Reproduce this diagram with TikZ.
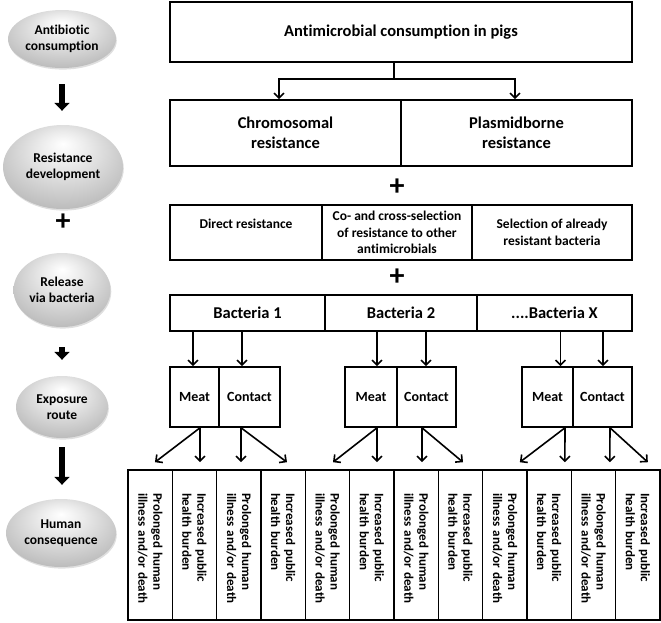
\documentclass[tikz,border=0pt]{standalone}
\usepackage{fontspec}
\setmainfont[Ligatures={NoCommon}]{Carlito}
\usetikzlibrary{arrows.meta,calc,shapes.geometric,shadows}
\pgfdeclareradialshading{eggshade}{\pgfpoint{0bp}{14bp}}{color(0bp)=(white); color(10bp)=(black!8); color(28bp)=(black!24); color(44bp)=(black!40); color(50bp)=(black!48)}
\begin{document}
\begin{tikzpicture}[x=1pt,y=-1pt,
  box/.style={draw, line width=1.6pt, inner sep=2pt, align=center,
    font=\bfseries\fontsize{13.5}{16.5}\selectfont},
  bigbox/.style={box, font=\bfseries\fontsize{16.5}{20}\selectfont},
  col/.style={draw, line width=1.6pt, inner sep=0pt, rotate=-90,
    minimum width=150pt, minimum height=44.33pt},
  coltext/.style={rotate=-90, inner sep=0pt, text width=124pt, align=left,
    font=\bfseries\fontsize{13}{15}\selectfont},
  egg/.style={ellipse, shading=eggshade, inner sep=0pt, align=center,
    font=\bfseries\fontsize{13.5}{16.5}\selectfont,
    drop shadow={opacity=0.25, shadow xshift=0.8pt, shadow yshift=-1.6pt}},
  plus/.style={font=\bfseries\fontsize{30}{30}\selectfont, inner sep=0pt},
  arr/.style={line width=1.6pt, -{Straight Barb[length=5pt,width=10pt]}},
  blk/.style={line width=5.5pt, -{Triangle[length=8pt,width=15pt]}},
]
\useasboundingbox (0,0) rectangle (661,622);

% ---------- left column ----------
\node[egg, minimum width=108pt, minimum height=58pt] (e1) at (62,39) {Antibiotic\\consumption};
\node[egg, minimum width=120pt, minimum height=84pt] (e2) at (63,167) {Resistance\\development};
\node[egg, minimum width=97pt, minimum height=74pt] (e3) at (62,290) {Release\\via bacteria};
\node[egg, minimum width=92pt, minimum height=62pt] (e4) at (62,407) {Exposure\\route};
\node[egg, minimum width=110pt, minimum height=68pt] (e5) at (61,533) {Human\\consequence};
\node[plus] (pl0) at (63,222) {+};
\draw[blk, shorten <=16pt, shorten >=14pt] (e1.south) -- (e2.north -| e1.south);
\draw[blk, shorten <=20pt, shorten >=16pt] (e3.south) -- (e4.north -| e3.south);
\draw[blk, shorten <=9pt, shorten >=14pt] (e4.south) -- (e5.north -| e4.south);

% ---------- top ----------
\node[bigbox, minimum width=462pt, minimum height=60pt] (top) at (401,32) {Antimicrobial consumption in pigs};
\node[bigbox, minimum width=231pt, minimum height=66pt] (chrom) at (285.5,133) {Chromosomal\\resistance};
\node[bigbox, minimum width=231pt, minimum height=66pt] (plas) at (516.5,133) {Plasmidborne\\resistance};
\coordinate (split) at (394,79);
\path ([xshift=-6.5pt]chrom.north) coordinate (chromin);
\path ([xshift=-1.5pt]plas.north) coordinate (plasin);
\draw[line width=1.6pt] (top.south -| split) -- (split);
\draw[arr] (split) -| (chromin);
\draw[arr] (split) -| (plasin);

\node[plus] (pl1) at (397,187) {+};

% ---------- mechanisms ----------
\node[box, minimum width=152pt, minimum height=55pt] (direct) at (246,232.5) {Direct resistance\\\mbox{}};
\node[box, minimum width=150pt, minimum height=55pt] (cosel) at (397,232.5) {Co- and cross-selection\\of resistance to other\\antimicrobials};
\node[box, minimum width=160pt, minimum height=55pt] (sel) at (552,232.5) {Selection of already\\resistant bacteria};

\node[plus] (pl2) at (397,277) {+};

% ---------- bacteria ----------
\node[bigbox, minimum width=155pt, minimum height=36pt] (b1) at (247.5,313) {Bacteria 1};
\node[bigbox, minimum width=152pt, minimum height=36pt] (b2) at (401,313) {Bacteria 2};
\node[bigbox, minimum width=155pt, minimum height=36pt] (bx) at (554.5,313) {....Bacteria X};

% ---------- exposure ----------
\tikzset{mc/.style={box, font=\bfseries\fontsize{14}{17}\selectfont, minimum height=60pt}}
\node[mc, minimum width=49pt] (meat1) at (194.5,397) {Meat};
\node[mc, minimum width=61pt] (cont1) at (249.5,397) {Contact};
\node[mc, minimum width=52pt] (meat2) at (371,397) {Meat};
\node[mc, minimum width=59pt] (cont2) at (426.5,397) {Contact};
\node[mc, minimum width=51pt] (meat3) at (547.5,397) {Meat};
\node[mc, minimum width=59pt] (cont3) at (602.5,397) {Contact};

\path ([xshift=-1.5pt]meat1.north) coordinate (m1t);
\path ([xshift=-7.5pt]cont1.north) coordinate (c1t);
\path ([xshift=6pt]meat2.north) coordinate (m2t);
\path ([xshift=-0.5pt]cont2.north) coordinate (c2t);
\path ([xshift=13pt]meat3.north) coordinate (m3t);
\path ([xshift=0.5pt]cont3.north) coordinate (c3t);
\draw[arr] (m1t |- b1.south) -- (m1t);
\draw[arr] (c1t |- b1.south) -- (c1t);
\draw[arr] (m2t |- b2.south) -- (m2t);
\draw[arr] (c2t |- b2.south) -- (c2t);
\draw[arr] (m3t |- bx.south) -- (m3t);
\draw[arr] (c3t |- bx.south) -- (c3t);

% ---------- consequences ----------
\foreach \i in {0,...,11}{
  \pgfmathsetmacro\cx{128+44.333*(\i+0.5)}
  \node[col] (c\i) at (\cx,545) {};
  \ifodd\i
    \node[coltext] (t\i) at (\cx,555) {Increased public\\health burden};
  \else
    \node[coltext] (t\i) at (\cx,555) {Prolonged human\\illness and/or death};
  \fi
}

\draw[arr] ([xshift=5.5pt]meat1.south) -- ([xshift=4.8pt,yshift=7pt]c0.west);
\draw[arr] ([xshift=5.5pt]meat1.south) -- ([xshift=5.5pt,yshift=7pt]c1.west);
\draw[arr] ([xshift=-8.5pt]cont1.south) -- ([xshift=2.2pt,yshift=7pt]c2.west);
\draw[arr] ([xshift=-8.5pt]cont1.south) -- ([xshift=3.8pt,yshift=7pt]c3.west);
\draw[arr] ([xshift=6pt]meat2.south) -- ([xshift=5.5pt,yshift=7pt]c4.west);
\draw[arr] ([xshift=6pt]meat2.south) -- ([xshift=5.2pt,yshift=7pt]c5.west);
\draw[arr] ([xshift=-4.5pt]cont2.south) -- ([xshift=5.8pt,yshift=7pt]c6.west);
\draw[arr] ([xshift=-4.5pt]cont2.south) -- ([xshift=2.5pt,yshift=7pt]c7.west);
\draw[arr] ([xshift=17.5pt]meat3.south) -- ([xshift=15pt,yshift=7pt]c8.west);
\draw[arr] ([xshift=17.5pt]meat3.south) -- ([xshift=15.7pt,yshift=7pt]c9.west);
\draw[arr] ([xshift=7.5pt]cont3.south) -- ([xshift=16.3pt,yshift=7pt]c10.west);
\draw[arr] ([xshift=7.5pt]cont3.south) -- ([xshift=10pt,yshift=7pt]c11.west);
\end{tikzpicture}
\end{document}
